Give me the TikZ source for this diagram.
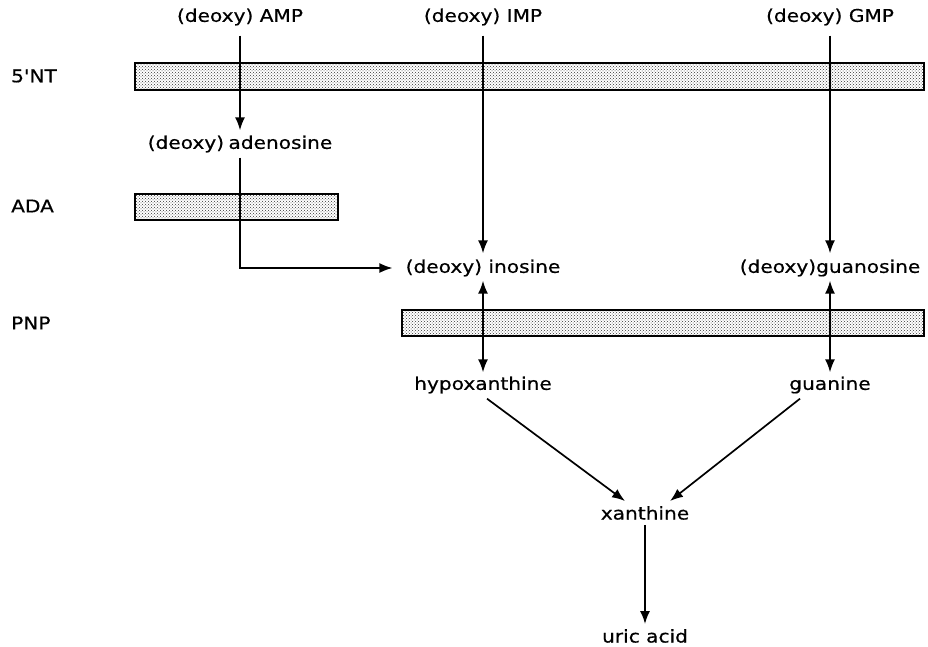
\documentclass[tikz,border=0pt]{standalone}
\usepackage{fontspec}
\newfontfamily\lblfont{DejaVu Sans}[FakeStretch=1.15,FakeBold=0.6]
\usepackage{tikz}
\usetikzlibrary{arrows.meta}
\usetikzlibrary{patterns}

\begin{document}
\begin{tikzpicture}[x=1pt,y=-1pt,
  lbl/.style={font=\lblfont\fontsize{17.5}{20}\selectfont,inner sep=3pt},
  bar/.style={draw,line width=1.4pt,pattern=crosshatch dots,pattern color=black!80},
  arr/.style={line width=1.7pt,-{Latex[length=13pt,width=10pt]}},
  darr/.style={line width=1.7pt,{Latex[length=13pt,width=10pt]}-{Latex[length=13pt,width=10pt]}}]
  \useasboundingbox (0,0) rectangle (928,647);
  \node[lbl,anchor=west] (nt) at (8,76) {5'NT};
  \node[lbl,anchor=west] (ada) at (8,206) {ADA};
  \node[lbl,anchor=west] (pnp) at (8,323) {PNP};
   \draw[bar] (135,63) rectangle (924,90);
   \draw[bar] (135,194) rectangle (338,220);
   \draw[bar] (402,310) rectangle (924,336);
  \node[lbl] (amp) at (240,17) {(deoxy) AMP};
  \node[lbl] (imp) at (483,17) {(deoxy) IMP};
  \node[lbl] (gmp) at (830,17) {(deoxy) GMP};
  \node[lbl] (aden) at (240,144) {(deoxy)\kern-2pt\ adenosine};
  \node[lbl] (ino) at (483,268) {(deoxy) inosine};
  \node[lbl] (guo) at (830,268) {(deoxy)guanosine};
  \node[lbl] (hyp) at (483,385) {hypoxanthine};
  \node[lbl] (gua) at (830,385) {guanine};
  \node[lbl] (xan) at (645,513) {xanthine};
  \node[lbl] (uric) at (645,636) {uric acid};

 \draw[arr] ([yshift=-7pt]amp.south) -- ([yshift=2pt]aden.north);
 \draw[arr] ([yshift=-7pt]imp.south) -- ([yshift=3pt]ino.north);
 \draw[arr] ([yshift=-7pt]gmp.south) -- ([yshift=3pt]guo.north);
 \draw[arr] ([yshift=-2pt]aden.south) |- ([xshift=-10pt]ino.west);
 \draw[darr] ([yshift=-1pt]ino.south) -- ([yshift=1pt]hyp.north);
 \draw[darr] ([yshift=-1pt]guo.south) -- ([yshift=1pt]gua.north);
 \draw[arr] ([xshift=4pt,yshift=-2pt]hyp.south) -- ([xshift=-20pt,yshift=2pt]xan.north);
 \draw[arr] ([xshift=-30pt,yshift=-2pt]gua.south) -- ([xshift=25pt,yshift=2pt]xan.north);
 \draw[arr] ([yshift=-2pt]xan.south) -- ([yshift=2pt]uric.north);
\end{tikzpicture}
\end{document}
